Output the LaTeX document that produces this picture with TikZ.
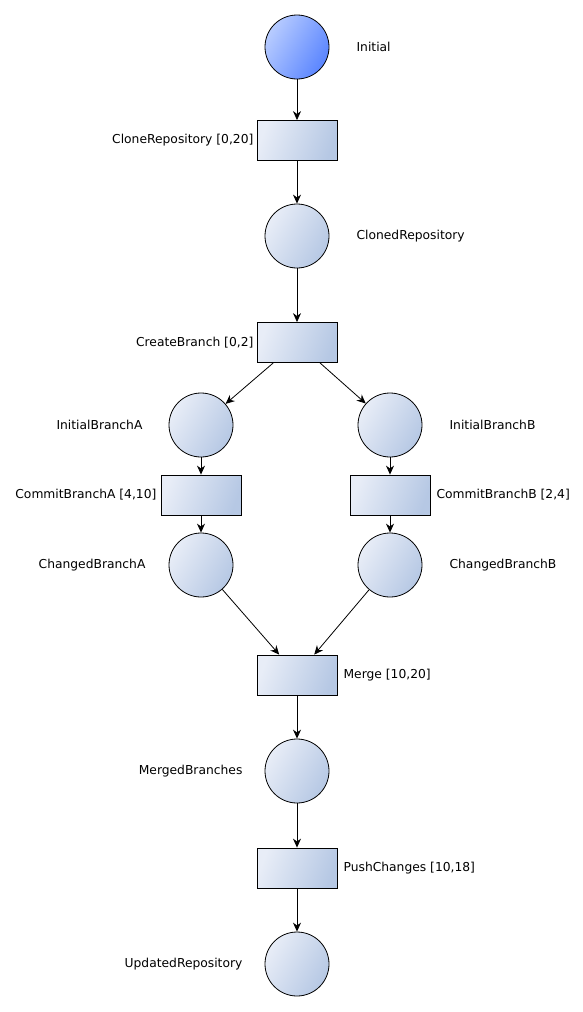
\documentclass[tikz,border=0pt]{standalone}
\usepackage{fontspec}
\setmainfont{DejaVu Sans}
\usetikzlibrary{arrows.meta}
\usetikzlibrary{positioning}
\definecolor{placelight}{HTML}{E8EDF7}
\definecolor{placedark}{HTML}{B6C8E4}
\definecolor{startlight}{HTML}{B8CCFF}
\definecolor{startdark}{HTML}{5A85FF}

\begin{document}
\begin{tikzpicture}[x=1pt, y=-1pt, font=\fontsize{12.3}{14}\selectfont,
    place/.style={circle, draw, line width=0.8pt, minimum size=64pt, inner sep=0pt,
        top color=placelight, bottom color=placedark, shading angle=60},
    startplace/.style={place, top color=startlight, bottom color=startdark, shading angle=60},
    trans/.style={rectangle, draw, line width=0.8pt, minimum width=80pt, minimum height=40pt,
        inner sep=0pt, top color=placelight, bottom color=placedark, shading angle=70},
    lbl/.style={inner sep=0pt},
    arc/.style={-{Stealth[length=9pt, width=8pt]}, line width=0.8pt}]
        \useasboundingbox (0,0) rectangle (583,1012);
        % places and transitions
        \node[startplace] (init) at (297,47) {};
        \node[trans] (clone) at (297,140.5) {};
        \node[place] (cloned) at (297,236) {};
        \node[trans] (create) at (297,342.5) {};
        \node[place] (inia) at (201,425) {};
        \node[place] (inib) at (390,425) {};
        \node[trans] (commita) at (201,495) {};
        \node[trans] (commitb) at (390,495) {};
        \node[place] (changeda) at (201,565) {};
        \node[place] (changedb) at (390,565) {};
        \node[trans] (merge) at (297,675) {};
        \node[place] (merged) at (297,771) {};
        \node[trans] (push) at (297,868) {};
        \node[place] (updated) at (297,964) {};
        % labels
        \node[lbl, right=27pt of init] (initlbl) {Initial};
        \node[lbl, left=3pt of clone] (clonelbl) {CloneRepository [0,20]};
        \node[lbl, right=27pt of cloned] (clonedlbl) {ClonedRepository};
        \node[lbl, left=3pt of create] (createlbl) {CreateBranch [0,2]};
        \node[lbl, left=26pt of inia] (inialbl) {InitialBranchA};
        \node[lbl, right=27pt of inib] (iniblbl) {InitialBranchB};
        \node[lbl, left=4pt of commita] (commitalbl) {CommitBranchA [4,10]};
        \node[lbl, right=6pt of commitb] (commitblbl) {CommitBranchB [2,4]};
        \node[lbl, left=23pt of changeda] (changedalbl) {ChangedBranchA};
        \node[lbl, right=27pt of changedb] (changedblbl) {ChangedBranchB};
        \node[lbl, right=6pt of merge] (mergelbl) {Merge [10,20]};
        \node[lbl, left=22pt of merged] (mergedlbl) {MergedBranches};
        \node[lbl, right=6pt of push] (pushlbl) {PushChanges [10,18]};
        \node[lbl, left=22pt of updated] (updatedlbl) {UpdatedRepository};
        % arcs
        \draw[arc] (init) -- (clone);
        \draw[arc] (clone) -- (cloned);
        \draw[arc] (cloned) -- (create);
        \draw[arc] (create) -- (inia);
        \draw[arc] (create) -- (inib);
        \draw[arc] (inia) -- (commita);
        \draw[arc] (inib) -- (commitb);
        \draw[arc] (commita) -- (changeda);
        \draw[arc] (commitb) -- (changedb);
        \draw[arc] (changeda) -- (merge);
        \draw[arc] (changedb) -- (merge);
        \draw[arc] (merge) -- (merged);
        \draw[arc] (merged) -- (push);
        \draw[arc] (push) -- (updated);
\end{tikzpicture}
\end{document}
